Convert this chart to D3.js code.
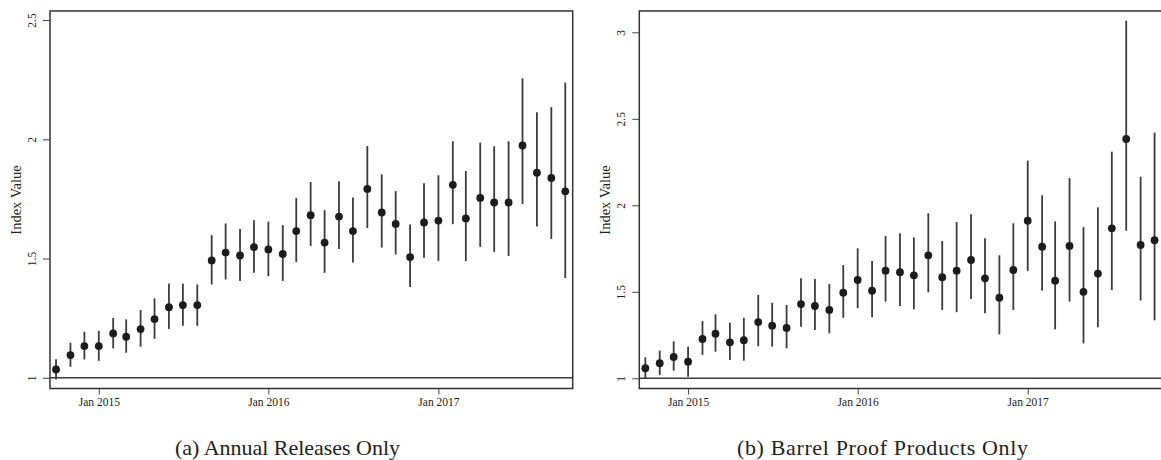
<!DOCTYPE html>
<html>
<head>
<meta charset="utf-8">
<script src="https://cdn.jsdelivr.net/npm/d3@7"></script>
<style>
  body { margin: 0; background: #fff; }
</style>
</head>
<body>
<svg id="chart" width="1161" height="460"></svg>
<script>
// months of the index (Oct 2014 - Oct 2017)
const months = [
  "2014-10", "2014-11", "2014-12",
  "2015-01", "2015-02", "2015-03", "2015-04", "2015-05", "2015-06",
  "2015-07", "2015-08", "2015-09", "2015-10", "2015-11", "2015-12",
  "2016-01", "2016-02", "2016-03", "2016-04", "2016-05", "2016-06",
  "2016-07", "2016-08", "2016-09", "2016-10", "2016-11", "2016-12",
  "2017-01", "2017-02", "2017-03", "2017-04", "2017-05", "2017-06",
  "2017-07", "2017-08", "2017-09", "2017-10"
];

// (a) annual releases
const annualMid = [1.035, 1.095, 1.133, 1.133, 1.186, 1.172, 1.204, 1.246, 1.296, 1.305, 1.305, 1.492,
  1.525, 1.513, 1.548, 1.538, 1.519, 1.615, 1.682, 1.567, 1.676, 1.615, 1.792, 1.693, 1.645,
  1.506, 1.651, 1.659, 1.809, 1.668, 1.754, 1.735, 1.735, 1.974, 1.860, 1.838, 1.782];
const annualLo = [0.993, 1.046, 1.077, 1.071, 1.123, 1.105, 1.130, 1.163, 1.204, 1.218, 1.218, 1.391,
  1.412, 1.406, 1.440, 1.426, 1.406, 1.485, 1.553, 1.440, 1.540, 1.483, 1.628, 1.546, 1.517,
  1.381, 1.503, 1.490, 1.644, 1.489, 1.549, 1.528, 1.511, 1.729, 1.634, 1.582, 1.418];
const annualHi = [1.078, 1.147, 1.193, 1.197, 1.251, 1.245, 1.284, 1.333, 1.395, 1.395, 1.391, 1.598,
  1.647, 1.624, 1.661, 1.655, 1.640, 1.754, 1.821, 1.703, 1.824, 1.756, 1.972, 1.853, 1.783,
  1.643, 1.816, 1.849, 1.992, 1.867, 1.986, 1.971, 1.992, 2.256, 2.113, 2.135, 2.238];

// (b) barrel proof products
const barrelMid = [1.058, 1.087, 1.123, 1.096, 1.227, 1.258, 1.208, 1.220, 1.325, 1.304, 1.291, 1.429,
  1.418, 1.395, 1.495, 1.568, 1.506, 1.622, 1.613, 1.595, 1.711, 1.584, 1.622, 1.684, 1.578,
  1.466, 1.626, 1.911, 1.761, 1.564, 1.765, 1.500, 1.605, 1.867, 2.383, 1.771, 1.798];
const barrelLo = [1.000, 1.019, 1.044, 1.009, 1.135, 1.154, 1.106, 1.102, 1.185, 1.183, 1.173, 1.298,
  1.279, 1.260, 1.350, 1.405, 1.353, 1.443, 1.418, 1.399, 1.497, 1.395, 1.382, 1.458, 1.376,
  1.254, 1.395, 1.620, 1.506, 1.283, 1.443, 1.202, 1.295, 1.510, 1.853, 1.449, 1.335];
const barrelHi = [1.121, 1.160, 1.214, 1.183, 1.331, 1.370, 1.321, 1.350, 1.482, 1.437, 1.424, 1.578,
  1.574, 1.545, 1.655, 1.751, 1.678, 1.823, 1.838, 1.815, 1.954, 1.794, 1.903, 1.948, 1.809,
  1.711, 1.896, 2.258, 2.058, 1.907, 2.158, 1.874, 1.988, 2.310, 3.067, 2.165, 2.420];

const xTicks = ["2015-01", "2016-01", "2017-01"];
const xTickLabels = ["Jan 2015", "Jan 2016", "Jan 2017"];
const annualYTicks = [1, 1.5, 2, 2.5];
const barrelYTicks = [1, 1.5, 2, 2.5, 3];

const serif = "'Liberation Serif', 'DejaVu Serif', serif";
const parse = d3.timeParse("%Y-%m");
const svg = d3.select("#chart");

const plotTop = 11, plotBottom = 388.5, panelW = 522.7;

const panels = [
  { x0: 50, mid: annualMid, lo: annualLo, hi: annualHi, yDomain: [0.955, 2.538],
    yTicks: annualYTicks, caption: "(a) Annual Releases Only", capX: 287.5, capW: 225 },
  { x0: 639.3, mid: barrelMid, lo: barrelLo, hi: barrelHi, yDomain: [0.941, 3.123],
    yTicks: barrelYTicks, caption: "(b) Barrel Proof Products Only", capX: 882.5, capW: 291 }
];

panels.forEach(p => {
  const data = months.map((m, i) => ({ date: parse(m), mid: p.mid[i], lo: p.lo[i], hi: p.hi[i] }));

  const x = d3.scaleTime()
    .domain([new Date(2014, 8, 18), new Date(2017, 9, 17)])
    .range([p.x0, p.x0 + panelW]);
  const y = d3.scaleLinear().domain(p.yDomain).range([plotBottom, plotTop]);

  const g = svg.append("g");

  // eix Y
  const ya = g.append("g")
    .attr("transform", `translate(${p.x0},0)`)
    .call(d3.axisLeft(y).tickValues(p.yTicks).tickSize(7).tickFormat(d => String(d)));
  ya.attr("font-family", null).attr("font-size", null);
  ya.select(".domain").remove();
  ya.selectAll("line").attr("stroke", "#444").attr("stroke-width", 1);
  ya.selectAll("text")
    .attr("x", 0).attr("dy", null)
    .attr("text-anchor", "middle")
    .attr("transform", "translate(-14,0) rotate(-90)")
    .attr("fill", "#222")
    .style("font-family", serif)
    .style("font-size", "11.5px");

  // eix X
  const xa = g.append("g")
    .attr("transform", `translate(0,${plotBottom})`)
    .call(d3.axisBottom(x).tickValues(xTicks.map(parse)).tickSize(6)
      .tickFormat((d, i) => xTickLabels[i]));
  xa.attr("font-family", null).attr("font-size", null);
  xa.select(".domain").remove();
  xa.selectAll("line").attr("stroke", "#444").attr("stroke-width", 1);
  xa.selectAll("text").attr("y", 0).attr("dy", null)
    .attr("transform", "translate(0,17)")
    .attr("fill", "#222")
    .style("font-family", serif)
    .style("font-size", "11.5px");

  // reference line at 1
  g.append("line")
    .attr("x1", p.x0).attr("x2", p.x0 + panelW)
    .attr("y1", y(1)).attr("y2", y(1))
    .attr("stroke", "#3a3a3a").attr("stroke-width", 1.6);

  // whiskers
  g.selectAll(".ci")
    .data(data)
    .enter()
    .append("line")
    .attr("class", "ci")
    .attr("x1", d => x(d.date)).attr("x2", d => x(d.date))
    .attr("y1", d => y(d.lo)).attr("y2", d => y(d.hi))
    .attr("stroke", "#3c3c3c").attr("stroke-width", 1.8);

  // points
  g.selectAll(".pt")
    .data(data)
    .enter()
    .append("circle")
    .attr("class", "pt")
    .attr("cx", d => x(d.date)).attr("cy", d => y(d.mid))
    .attr("r", 3.9)
    .attr("fill", "#1c1c1c");

  // frame
  g.append("rect")
    .attr("x", p.x0).attr("y", plotTop)
    .attr("width", panelW).attr("height", plotBottom - plotTop)
    .attr("fill", "none").attr("stroke", "#333").attr("stroke-width", 1.5);

  // titol eix Y
  g.append("text")
    .attr("text-anchor", "middle")
    .attr("transform", `translate(${p.x0 - 29},200) rotate(-90)`)
    .attr("fill", "#222")
    .style("font-family", serif)
    .style("font-size", "14.5px")
    .text("Index Value");

  // caption
  g.append("text")
    .attr("x", p.capX).attr("y", 455)
    .attr("text-anchor", "middle")
    .attr("textLength", p.capW)
    .attr("lengthAdjust", "spacing")
    .attr("fill", "#222")
    .style("font-family", serif)
    .style("font-size", "22px")
    .text(p.caption);
});
</script>
</body>
</html>
